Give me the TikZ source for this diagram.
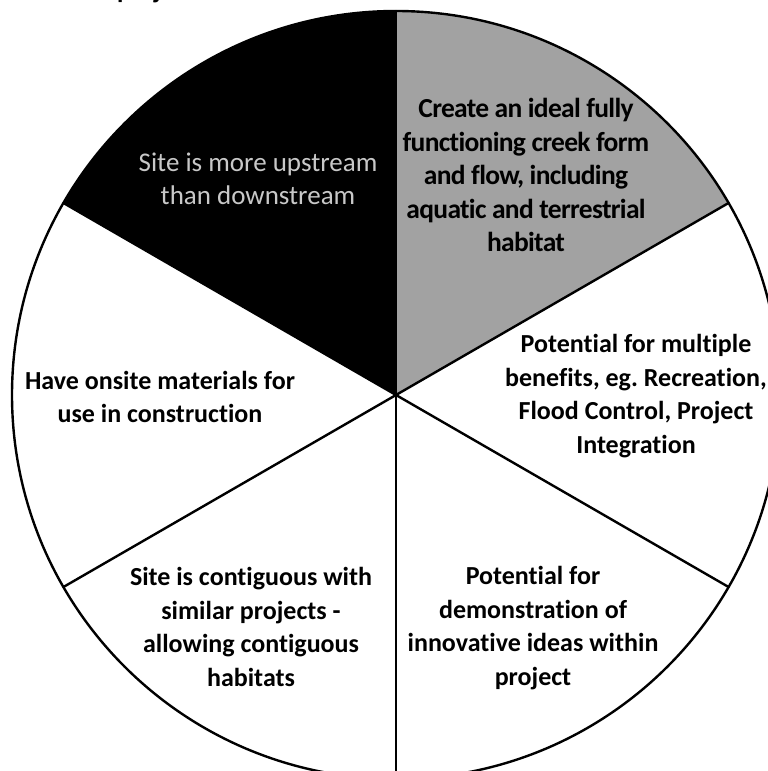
\documentclass[tikz,border=0pt]{standalone}
\usepackage{fontspec}
\setmainfont{Carlito}[Ligatures=NoCommon]
\definecolor{stipple}{RGB}{162,162,162}
\definecolor{ghost}{RGB}{200,200,200}
\frenchspacing
\begin{document}
\begin{tikzpicture}[x=1pt,y=1pt,
  lbl/.style={align=center,font=\fontsize{26}{33.5}\selectfont\bfseries,inner sep=0pt},
  glbl/.style={align=center,font=\fontsize{27.5}{33.5}\selectfont\bfseries\addfontfeatures{LetterSpace=-2.5},inner sep=0pt},
  wlbl/.style={align=center,font=\fontsize{27}{33.5}\selectfont,text=ghost,inner sep=0pt},
  spoke/.style={line width=2.4pt,line cap=round},
  rim/.style={line width=2.4pt}]
\useasboundingbox (0,0) rectangle (768,771);
\coordinate (c) at (396,376);
% slices
\fill[black] (c) -- ++(90:384) arc[start angle=90,end angle=150,radius=384] -- cycle;
\fill[stipple] (c) -- ++(30:384) arc[start angle=30,end angle=90,radius=384] -- cycle;
% spokes
\foreach \a in {90,30,-30,-90,-150,150}{
  \draw[spoke] (c) -- ++(\a:384);
}
\draw[rim] (c) circle[radius=384];
% labels
\node[wlbl] (up) at (258,592) {Site is more upstream\\than downstream};
\node[glbl] (creek) at (526,596) {Create an ideal fully\\functioning creek form\\and flow, including\\aquatic and terrestrial\\habitat};
\node[lbl] (benefits) at (636,375) {Potential for multiple\\benefits, eg. Recreation,\\Flood Control, Project\\Integration};
\node[lbl] (onsite) at (160,374) {Have onsite materials for\\use in construction};
\node[lbl] (contig) at (251,144) {Site is contiguous with\\similar projects -\\allowing contiguous\\habitats};
\node[lbl] (demo) at (533,143) {Potential for\\demonstration of\\innovative ideas within\\project};
\node[lbl,anchor=base west] (title) at (117,772) {project};
\end{tikzpicture}
\end{document}
